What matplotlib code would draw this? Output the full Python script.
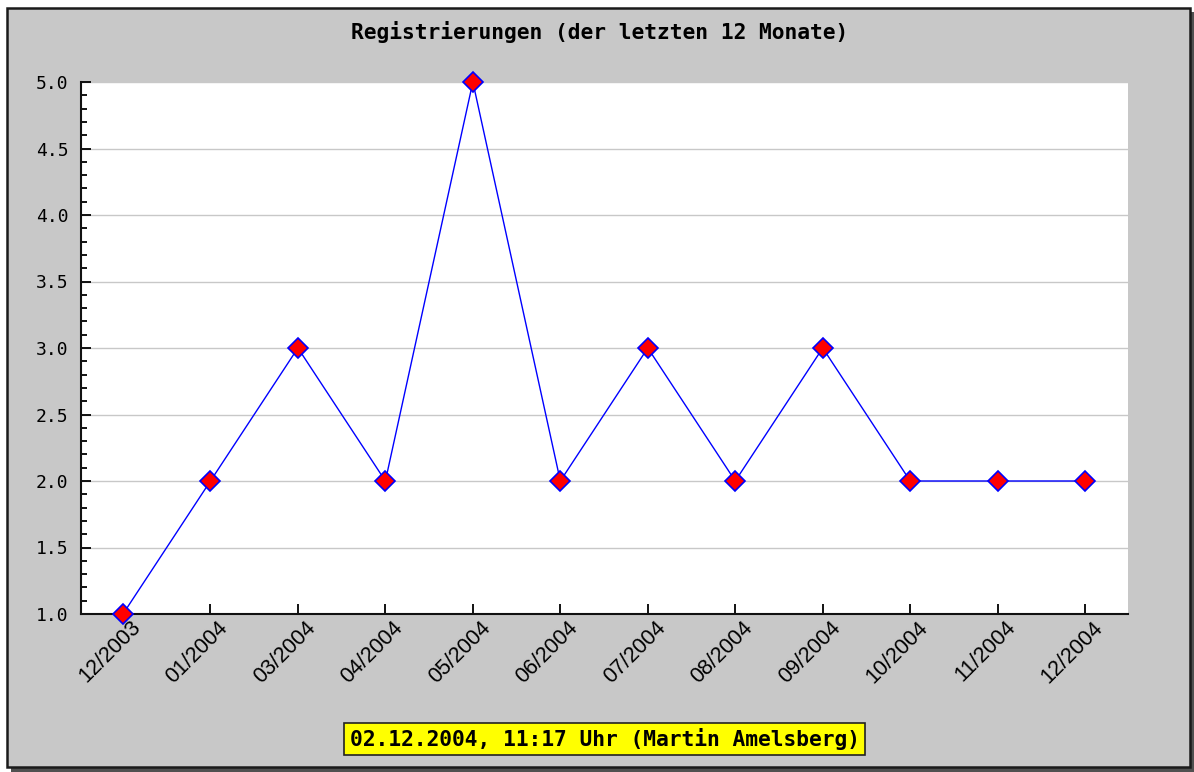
import matplotlib
matplotlib.use("Agg")
import matplotlib.pyplot as plt
from matplotlib.patches import Rectangle
from matplotlib.ticker import MultipleLocator, FormatStrFormatter
from matplotlib.transforms import ScaledTranslation

months = ["12/2003", "01/2004", "03/2004", "04/2004", "05/2004", "06/2004",
          "07/2004", "08/2004", "09/2004", "10/2004", "11/2004", "12/2004"]
registrations = [1, 2, 3, 2, 5, 2, 3, 2, 3, 2, 2, 2]
title = "Registrierungen (der letzten 12 Monate)"
footer = "02.12.2004, 11:17 Uhr (Martin Amelsberg)"

W, H = 1194, 772
fig = plt.figure(figsize=(W / 100, H / 100), dpi=100)
fig.patch.set_facecolor("white")


def fx(px):
    return px / W


def fy(py):
    return 1 - py / H


def box(x0, y0, x1, y1, **kw):
    # rectangle given in pixel coordinates (origin top-left)
    return Rectangle((fx(x0), fy(y1)), (x1 - x0) / W, (y1 - y0) / H,
                     transform=fig.transFigure, **kw)


# framed panel with drop shadow
fig.patches.append(box(11, 12, 1194, 772, facecolor="#505050",
                       edgecolor="none", zorder=0))
fig.patches.append(box(7, 8, 1190, 767, facecolor="#c8c8c8",
                       edgecolor="#1a1a1a", linewidth=1.8, zorder=1))

ax = fig.add_axes([fx(81), fy(614), fx(1128 - 81), (614 - 82) / H])
ax.set_zorder(2)
ax.set_facecolor("white")

x = list(range(len(months)))
ax.plot(x, registrations, color="#0000ff", linewidth=1.0, marker="D",
        markersize=10, markerfacecolor="#ff0000", markeredgecolor="#0000ff",
        markeredgewidth=1.2, clip_on=False, zorder=3)

ax.set_xlim(-0.48, len(months) - 1 + 0.49)
ax.set_ylim(1.0, 5.0)

ax.yaxis.set_major_locator(MultipleLocator(0.5))
ax.yaxis.set_minor_locator(MultipleLocator(0.1))
ax.yaxis.set_major_formatter(FormatStrFormatter("%.1f"))
ax.grid(axis="y", which="major", color="#c8c8c8", linewidth=1.0)
ax.set_axisbelow(True)

# category ticks; the month labels are placed as rotated texts below each tick
ax.set_xticks(x)
ax.set_xticklabels([])
label_tf = ax.get_xaxis_transform() + ScaledTranslation(7 / 100, -3 / 100,
                                                        fig.dpi_scale_trans)
for i, m in enumerate(months):
    ax.text(i, 0, m, transform=label_tf, rotation=45, ha="right", va="top",
            rotation_mode="anchor", fontsize=15.5, family="Liberation Sans",
            clip_on=False)

for lbl in ax.get_yticklabels():
    lbl.set_family("DejaVu Sans Mono")
    lbl.set_fontsize(13)

ax.tick_params(axis="x", direction="in", length=7, width=1.3, pad=6)
ax.tick_params(axis="y", which="major", direction="in", length=7, width=1.3, pad=9)
ax.tick_params(axis="y", which="minor", direction="in", length=4.5, width=1.3)

for side in ("top", "right"):
    ax.spines[side].set_visible(False)
for side in ("left", "bottom"):
    ax.spines[side].set_linewidth(1.5)
    ax.spines[side].set_color("#111111")

fig.text(fx(600), fy(32), title, ha="center", va="center",
         family="DejaVu Sans Mono", fontweight="bold", fontsize=15.3, zorder=3)

fig.text(fx(604.5), fy(739), footer, ha="center", va="center",
         family="DejaVu Sans Mono", fontweight="bold", fontsize=15.3, zorder=3,
         bbox=dict(boxstyle="square,pad=0.25", facecolor="#ffff00",
                   edgecolor="#222222", linewidth=1.2))

fig.savefig("out.png", dpi=100)
